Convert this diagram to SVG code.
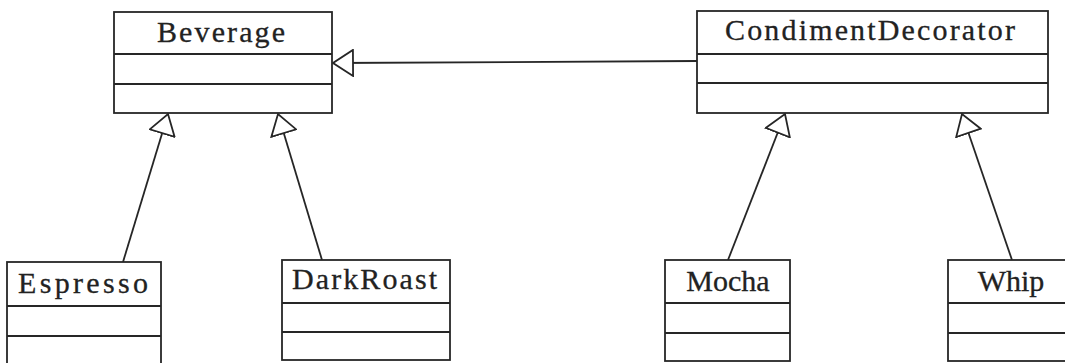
<svg xmlns="http://www.w3.org/2000/svg" width="1065" height="363" viewBox="0 0 1065 363">
<style>
.box{fill:#fff;stroke:#262626;stroke-width:1.8}
.div{stroke:#262626;stroke-width:1.8}
.lbl{font-family:"Liberation Serif","DejaVu Serif",serif;font-size:30px;fill:#222;stroke:#222;stroke-width:0.3}
.mid{text-anchor:middle}
.conn{stroke:#262626;stroke-width:1.8;fill:none}
</style>
<defs>
<marker id="tri" viewBox="0 0 22 28" refX="21" refY="14" markerWidth="22" markerHeight="28" markerUnits="userSpaceOnUse" orient="auto">
<path d="M1,1 L21,14 L1,27 Z" fill="#fff" stroke="#262626" stroke-width="1.8"/>
</marker>
</defs>
<rect width="1065" height="363" fill="#fff"/>
<g id="connectors">
<line class="conn" x1="697" y1="61" x2="333" y2="63" marker-end="url(#tri)"/>
<line class="conn" x1="123" y1="262" x2="168" y2="114" marker-end="url(#tri)"/>
<line class="conn" x1="322" y1="260" x2="278" y2="114" marker-end="url(#tri)"/>
<line class="conn" x1="728" y1="260" x2="785" y2="114" marker-end="url(#tri)"/>
<line class="conn" x1="1012" y1="260" x2="962" y2="114" marker-end="url(#tri)"/>
</g>
<g id="Beverage">
<rect class="box" x="114" y="12" width="218" height="101"/>
<line class="div" x1="114" y1="54" x2="332" y2="54"/>
<line class="div" x1="114" y1="84" x2="332" y2="84"/>
<text class="lbl" x="157" y="42" textLength="128" lengthAdjust="spacing">Beverage</text>
</g>
<g id="CondimentDecorator">
<rect class="box" x="697" y="11" width="351" height="102"/>
<line class="div" x1="697" y1="54" x2="1048" y2="54"/>
<line class="div" x1="697" y1="83" x2="1048" y2="83"/>
<text class="lbl" x="725" y="40" textLength="290" lengthAdjust="spacing">CondimentDecorator</text>
</g>
<g id="Espresso">
<rect class="box" x="7" y="262" width="154" height="110"/>
<line class="div" x1="7" y1="306" x2="161" y2="306"/>
<line class="div" x1="7" y1="336" x2="161" y2="336"/>
<text class="lbl" x="18" y="293" textLength="130" lengthAdjust="spacing">Espresso</text>
</g>
<g id="DarkRoast">
<rect class="box" x="282" y="260" width="168" height="100"/>
<line class="div" x1="282" y1="303" x2="450" y2="303"/>
<line class="div" x1="282" y1="332" x2="450" y2="332"/>
<text class="lbl" x="292" y="289" textLength="145" lengthAdjust="spacing">DarkRoast</text>
</g>
<g id="Mocha">
<rect class="box" x="665" y="260" width="125" height="101"/>
<line class="div" x1="665" y1="303" x2="790" y2="303"/>
<line class="div" x1="665" y1="333" x2="790" y2="333"/>
<text class="lbl mid" x="728" y="291">Mocha</text>
</g>
<g id="Whip">
<rect class="box" x="948" y="260" width="130" height="101"/>
<line class="div" x1="948" y1="303" x2="1078" y2="303"/>
<line class="div" x1="948" y1="333" x2="1078" y2="333"/>
<text class="lbl mid" x="1011" y="291">Whip</text>
</g>
</svg>
